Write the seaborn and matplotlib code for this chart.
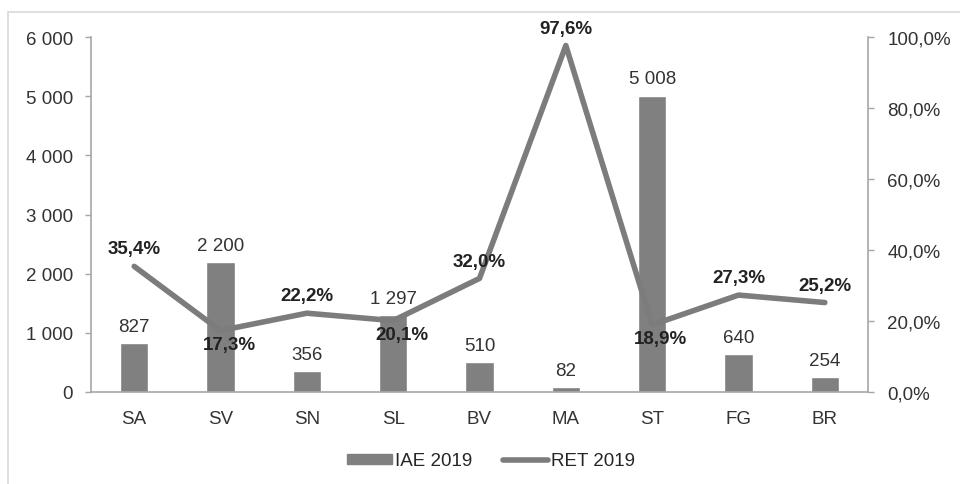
import numpy as np
import pandas as pd
import matplotlib
matplotlib.use('Agg')
import matplotlib.pyplot as plt
from matplotlib.patches import Rectangle
from matplotlib.lines import Line2D
from matplotlib.ticker import FuncFormatter, FixedLocator
import seaborn as sns

# données
regions = ['SA', 'SV', 'SN', 'SL', 'BV', 'MA', 'ST', 'FG', 'BR']
iae_2019 = [827, 2200, 356, 1297, 510, 82, 5008, 640, 254]
ret_2019 = [35.4, 17.3, 22.2, 20.1, 32.0, 97.6, 18.9, 27.3, 25.2]
# position de l'étiquette du taux : au-dessus (1) ou en dessous (-1)
ret_label_side = [1, -1, 1, -1, 1, 1, -1, 1, 1]

sns.set_theme(style='white')
plt.rcParams['font.family'] = ['Liberation Sans', 'DejaVu Sans']

GRAY_BAR = '#808080'
GRAY_LINE = '#7c7c7c'
AXIS_GRAY = '#a6a6a6'
FS = 13.5

df = pd.DataFrame({'region': regions, 'iae': iae_2019, 'ret': ret_2019,
                   'pos': np.arange(len(regions))})

fig = plt.figure(figsize=(9.6, 4.85), dpi=100)
fig.patches.append(Rectangle((8 / 960, -0.1), 1.1, 1 - 13 / 485 + 0.1,
                             transform=fig.transFigure, fill=False,
                             edgecolor='#d9d9d9', linewidth=1.2))
ax = fig.add_axes([91 / 960, 1 - 393 / 485, (868 - 91) / 960, (393 - 38) / 485])

sns.barplot(data=df, x='pos', y='iae', color=GRAY_BAR, width=0.33,
            saturation=1, ax=ax, native_scale=True)
ax.set_xlim(-0.5, len(regions) - 0.5)
ax.set_ylim(0, 6000)
ax.set_yticks(range(0, 6001, 1000))
ax.yaxis.set_major_formatter(FuncFormatter(lambda v, p: f'{int(v):,}'.replace(',', ' ')))
ax.set_xticks(np.arange(len(regions)))
ax.set_xticklabels(regions)
ax.set_xlabel('')
ax.set_ylabel('')

# ticks des catégories aux frontières
ax.xaxis.set_minor_locator(FixedLocator(np.arange(-0.5, len(regions), 1)))
ax.tick_params(axis='x', which='major', length=0, pad=13, labelsize=FS, colors='#333333')
ax.tick_params(axis='x', which='minor', length=5, width=1, color=AXIS_GRAY, direction='out')
ax.tick_params(axis='y', length=4, width=1, color=AXIS_GRAY, direction='out',
               labelsize=FS, labelcolor='#333333', pad=9)
for s in ['top', 'right']:
    ax.spines[s].set_visible(False)
for s in ['left', 'bottom']:
    ax.spines[s].set_color(AXIS_GRAY)
    ax.spines[s].set_linewidth(1.2)

for x, v in zip(df['pos'], iae_2019):
    ax.text(x, v + 140, f'{v:,}'.replace(',', ' '), ha='center', va='bottom',
            fontsize=FS, color='#333333')

ax2 = ax.twinx()
sns.lineplot(data=df, x='pos', y='ret', color=GRAY_LINE, linewidth=4, ax=ax2)
ax2.set_ylim(0, 100)
ax2.set_yticks(range(0, 101, 20))
ax2.yaxis.set_major_formatter(FuncFormatter(lambda v, p: f'{v:.1f}%'.replace('.', ',')))
ax2.set_ylabel('')
ax2.set_xlabel('')
ax2.tick_params(axis='y', length=4, width=1, color=AXIS_GRAY, direction='out',
                labelsize=FS, labelcolor='#333333', pad=10)
for s in ['top', 'left', 'bottom']:
    ax2.spines[s].set_visible(False)
ax2.spines['right'].set_color(AXIS_GRAY)
ax2.spines['right'].set_linewidth(1.2)

for x, v, side in zip(df['pos'], ret_2019, ret_label_side):
    if side > 0:
        ax2.text(x, v + 2.5, f'{v:.1f}%'.replace('.', ','), ha='center',
                 va='bottom', fontsize=FS, fontweight='bold', color='#222222')
    else:
        ax2.text(x + 0.1, v - 1.5, f'{v:.1f}%'.replace('.', ','), ha='center',
                 va='top', fontsize=FS, fontweight='bold', color='#222222')

handles = [Rectangle((0, 0), 1, 1, color=GRAY_BAR),
           Line2D([0], [0], color=GRAY_LINE, linewidth=4)]
fig.legend(handles, ['IAE 2019', 'RET 2019'], loc='center',
           bbox_to_anchor=(491 / 960, 1 - 462 / 485), ncol=2, frameon=False,
           fontsize=FS, handlelength=2.4, handleheight=0.5, handletextpad=0.2,
           columnspacing=1.6)

fig.savefig('out.png', dpi=100)
